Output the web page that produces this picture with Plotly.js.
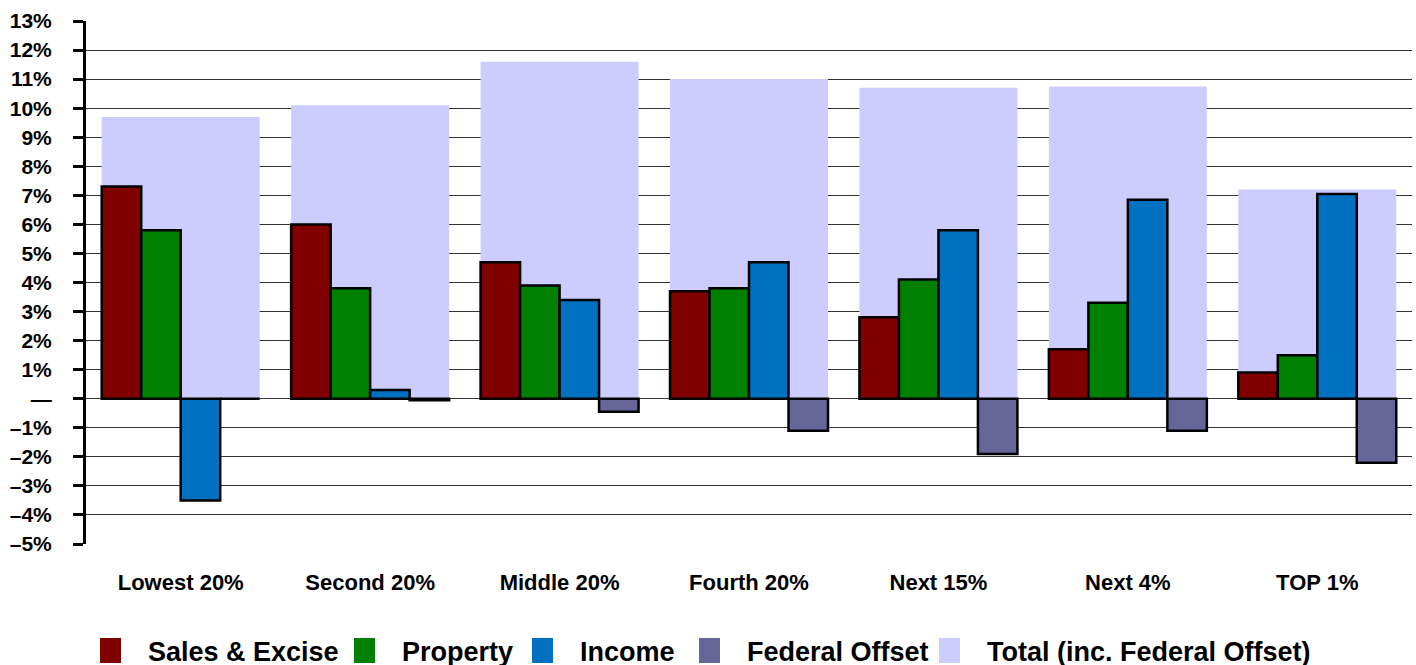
<!DOCTYPE html>
<html>
<head>
<meta charset="utf-8">
<script src="https://cdn.plot.ly/plotly-3.0.1.min.js"></script>
<style>html,body{margin:0;padding:0;background:#fff;}#chart{width:1416px;height:665px;}</style>
</head>
<body>
<div id="chart"></div>
<script>
const categories = ["Lowest 20%", "Second 20%", "Middle 20%", "Fourth 20%", "Next 15%", "Next 4%", "TOP 1%"];
const salesExcise = [7.3, 6.0, 4.7, 3.7, 2.8, 1.7, 0.9];
const property = [5.8, 3.8, 3.9, 3.8, 4.1, 3.3, 1.5];
const income = [-3.5, 0.3, 3.4, 4.7, 5.8, 6.85, 7.05];
const federalOffset = [0.0, -0.05, -0.45, -1.1, -1.9, -1.1, -2.2];
const total = [9.7, 10.1, 11.6, 11.0, 10.7, 10.75, 7.2];
const yTickVals = [-5,-4,-3,-2,-1,0,1,2,3,4,5,6,7,8,9,10,11,12,13];
const yTickText = ["–5%","–4%","–3%","–2%","–1%","—","1%","2%","3%","4%","5%","6%","7%","8%","9%","10%","11%","12%","13%"];

const groupW = 0.834;
const subW = groupW / 4;
const outline = {color: "#000000", width: 2.5};
const fontFam = "'Liberation Sans', Arial, Helvetica, sans-serif";
const legendFont = {family: fontFam, size: 27, color: "#000", weight: "bold"};

function legendBox(leftPx) {
  return {orientation: "h", x: (leftPx - 1) / 1416, xref: "container", xanchor: "left",
          y: 14 / 665, yref: "container", yanchor: "middle",
          font: legendFont, itemwidth: 38, bgcolor: "rgba(0,0,0,0)", borderwidth: 0};
}

function subBar(name, vals, color, idx, legendId) {
  return {
    type: "bar", name: name, x: categories, y: vals,
    width: subW, offset: -groupW / 2 + idx * subW,
    marker: {color: color, line: outline},
    legend: legendId
  };
}

const traces = [
  {type: "bar", name: "Total (inc. Federal Offset)", x: categories, y: total,
   width: groupW, offset: -groupW / 2, legend: "legend5",
   marker: {color: "#CCCCFF", line: {width: 0}}},
  subBar("Sales & Excise", salesExcise, "#800000", 0, "legend"),
  subBar("Property", property, "#008000", 1, "legend2"),
  subBar("Income", income, "#0070C0", 2, "legend3"),
  subBar("Federal Offset", federalOffset, "#666699", 3, "legend4")
];

const layout = {
  width: 1416, height: 665,
  margin: {l: 86, r: 4, t: 21, b: 121},
  paper_bgcolor: "#ffffff", plot_bgcolor: "#ffffff",
  barmode: "overlay",
  showlegend: true,
  legend: legendBox(101),
  legend2: legendBox(355),
  legend3: legendBox(533),
  legend4: legendBox(700),
  legend5: legendBox(940),
  xaxis: {type: "category", categoryorder: "array", categoryarray: categories,
          range: [-0.5, 6.5], showgrid: false, zeroline: false, showline: false,
          ticks: "outside", ticklen: 19, tickcolor: "rgba(0,0,0,0)",
          tickfont: {family: fontFam, size: 22, color: "#000", weight: "bold"}},
  xaxis2: {overlaying: "x", anchor: "free", position: 5 / 18, range: [-0.5, 6.5],
           showgrid: false, zeroline: false, showline: true, linecolor: "#000", linewidth: 2.5,
           ticks: "outside", ticklen: 8, tickwidth: 1.5, tickcolor: "#000",
           tickvals: [0.5, 1.5, 2.5, 3.5, 4.5, 5.5, 6.5], showticklabels: false},
  yaxis: {range: [-5, 13], tickvals: yTickVals, ticktext: yTickText,
          showgrid: true, gridcolor: "#333333", gridwidth: 1,
          zeroline: false, showline: true, linecolor: "#000", linewidth: 3,
          ticks: "outside", ticklen: 10, tickwidth: 3, tickcolor: "#000",
          ticklabelstandoff: 17,
          tickfont: {family: fontFam, size: 21, color: "#000", weight: "bold"}}
};

Plotly.newPlot("chart", traces, layout, {displayModeBar: false, staticPlot: true}).then(function (gd) {
  // enlarge legend swatches to match the reference's square keys
  gd.querySelectorAll(".legendpoints path").forEach(function (p) {
    p.setAttribute("d", "M-3,12.5H-24V-12.5H-3Z");
    p.style.strokeWidth = "0px";
  });
});
</script>
</body>
</html>
